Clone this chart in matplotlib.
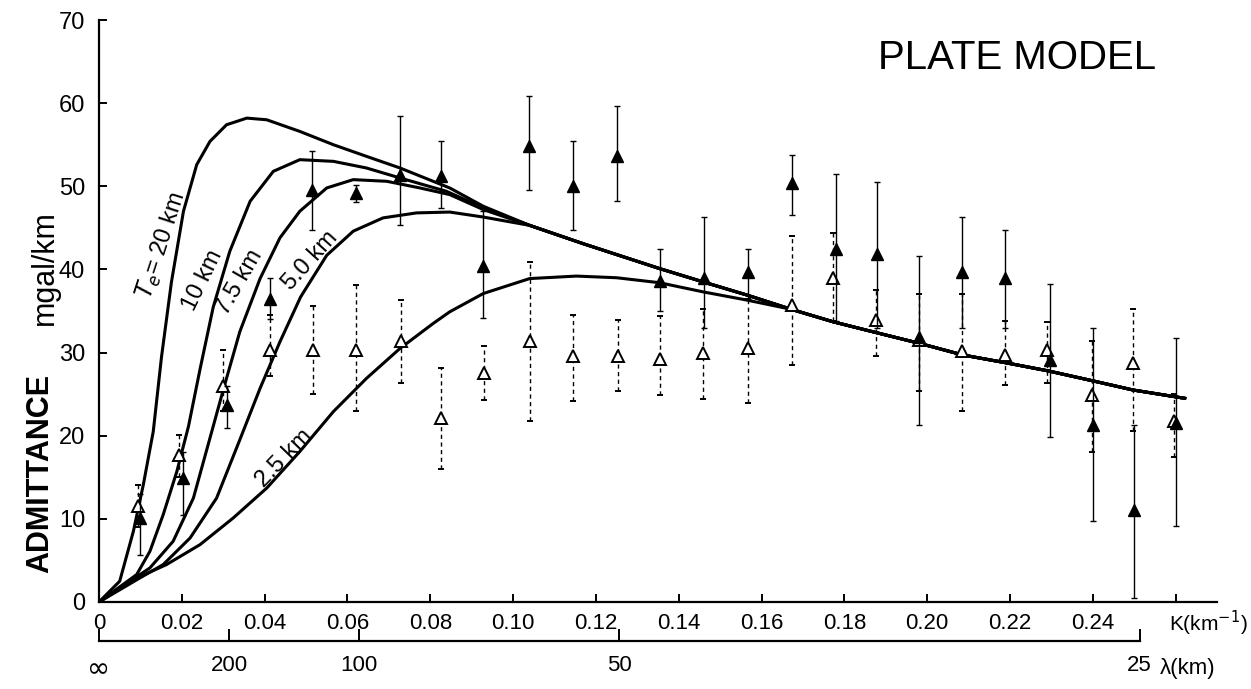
import numpy as np
import matplotlib
matplotlib.use("Agg")
import matplotlib.pyplot as plt

plt.rcParams['font.family'] = ['Liberation Sans', 'DejaVu Sans']
plt.rcParams['mathtext.fontset'] = 'dejavusans'

# model curves, k in km^-1, admittance in mgal/km
te20_k = [0, 0.005, 0.0083, 0.0107, 0.0131, 0.0151, 0.0175, 0.0204, 0.0236, 0.0268,
          0.0308, 0.0357, 0.0405, 0.0485, 0.0566, 0.0646, 0.0727, 0.0847, 0.0928]
te20_y = [0, 2.5, 8.5, 14.1, 20.5, 29.5, 38.5, 47.0, 52.6, 55.4,
          57.4, 58.2, 58.0, 56.6, 55.0, 53.6, 52.2, 49.8, 47.6]
te10_k = [0, 0.0091, 0.0123, 0.0155, 0.0188, 0.0216, 0.0244, 0.0276, 0.0316, 0.0365,
          0.0421, 0.0485, 0.0566, 0.0646, 0.0727, 0.0839, 0.0928]
te10_y = [0, 3.3, 6.1, 10.5, 15.7, 21.1, 28.0, 35.5, 42.2, 48.2,
          51.8, 53.2, 53.0, 52.2, 51.0, 49.4, 47.4]
te75_k = [0, 0.0123, 0.0179, 0.0228, 0.0264, 0.030, 0.034, 0.0389, 0.0437, 0.0485,
          0.055, 0.0614, 0.0695, 0.0775, 0.0847, 0.0928]
te75_y = [0, 4.1, 7.3, 12.5, 19.0, 25.5, 32.5, 38.9, 43.8, 47.0,
          49.8, 50.8, 50.6, 49.8, 49.0, 47.2]
te50_k = [0, 0.0099, 0.0155, 0.022, 0.0284, 0.034, 0.0389, 0.0437, 0.0487, 0.055,
          0.0614, 0.0686, 0.0767, 0.0847, 0.0928]
te50_y = [0, 2.9, 4.5, 7.7, 12.5, 19.5, 25.7, 31.3, 36.7, 41.7,
          44.6, 46.2, 46.8, 46.9, 46.3]
te25_k = [0, 0.0083, 0.0163, 0.0244, 0.0324, 0.0405, 0.0485, 0.0566, 0.0646, 0.0727,
          0.0807, 0.0847, 0.0928, 0.104, 0.1153, 0.125, 0.1354, 0.1459, 0.1566]
te25_y = [0, 2.7, 4.5, 6.9, 10.1, 13.7, 18.1, 22.9, 26.9, 30.5,
          33.5, 34.9, 37.1, 38.9, 39.2, 39.0, 38.4, 37.3, 36.3]
# common short-wavelength branch shared by all curves
tail_k = [0.104, 0.1169, 0.1354, 0.1459, 0.1566, 0.1672, 0.1773, 0.1877, 0.1982,
          0.2087, 0.2187, 0.2292, 0.240, 0.2497, 0.2622]
tail_y = [45.3, 43.1, 40.1, 38.5, 36.9, 35.2, 33.7, 32.4, 31.1,
          29.7, 28.8, 27.8, 26.6, 25.5, 24.5]

# observed admittance, solid triangles
filled_k = [0.0099, 0.0203, 0.031, 0.0413, 0.0514, 0.062, 0.0727, 0.0826, 0.0928, 0.1039,
            0.1144, 0.125, 0.1354, 0.146, 0.1567, 0.1673, 0.178, 0.188, 0.198, 0.2084,
            0.2187, 0.2296, 0.240, 0.250, 0.260]
filled_y = [10.1, 14.9, 23.7, 36.5, 49.5, 49.2, 51.3, 51.2, 40.4, 54.8,
            50.0, 53.7, 38.6, 39.0, 39.7, 50.4, 42.5, 41.8, 31.9, 39.7,
            39.0, 29.1, 21.3, 11.1, 21.5]
filled_lo = [5.6, 10.5, 20.9, 34.0, 44.8, 48.1, 45.3, 47.4, 34.1, 49.6,
             44.7, 48.2, 35.0, 32.9, 36.5, 46.5, 33.8, 33.0, 21.3, 33.0,
             33.0, 19.8, 9.7, 0.5, 9.1]
filled_hi = [13.0, 18.0, 26.0, 39.0, 54.2, 50.1, 58.5, 55.4, 47.0, 60.8,
             55.4, 59.7, 42.5, 46.3, 42.5, 53.8, 51.5, 50.5, 41.6, 46.3,
             44.8, 38.3, 32.9, 21.3, 31.7]

# observed admittance, open triangles
open_k = [0.0094, 0.0193, 0.030, 0.0413, 0.0516, 0.062, 0.073, 0.0826, 0.093, 0.1042,
          0.1144, 0.1253, 0.1354, 0.1458, 0.1567, 0.1673, 0.1772, 0.1876, 0.198, 0.2084,
          0.2187, 0.2289, 0.2397, 0.2498, 0.2597]
open_y = [11.5, 17.7, 26.0, 30.3, 30.3, 30.3, 31.4, 22.1, 27.5, 31.4,
          29.6, 29.6, 29.2, 29.9, 30.5, 35.7, 39.0, 33.9, 31.5, 30.2,
          29.7, 30.3, 24.9, 28.7, 21.8]
open_lo = [9.0, 15.0, 23.0, 27.2, 25.0, 23.0, 26.4, 16.0, 24.3, 21.8,
           24.2, 25.4, 24.9, 24.4, 23.9, 28.5, 33.8, 29.6, 25.4, 23.0,
           26.1, 26.3, 18.1, 20.6, 17.5]
open_hi = [14.1, 20.1, 30.3, 34.5, 35.6, 38.1, 36.3, 28.1, 30.8, 40.9,
           34.5, 33.9, 34.4, 35.3, 36.5, 44.0, 44.4, 37.5, 37.1, 37.1,
           33.8, 33.7, 31.4, 35.3, 25.0]

k_ticks = [0, 0.02, 0.04, 0.06, 0.08, 0.10, 0.12, 0.14, 0.16, 0.18, 0.20, 0.22, 0.24, 0.26]
k_labels = ['0', '0.02', '0.04', '0.06', '0.08', '0.10', '0.12', '0.14', '0.16',
            '0.18', '0.20', '0.22', '0.24', '']
lam_ticks = [np.inf, 200, 100, 50, 25]
lam_labels = ['∞', '200', '100', '50', '25']

curve_labels = [r'$T_e$= 20 km', '10 km', '7.5 km', '5.0 km', '2.5 km']
label_pos = [(0.0152, 42.9, 72), (0.0251, 38.7, 64), (0.034, 38.5, 60),
             (0.051, 41.0, 48), (0.0447, 17.3, 46)]

fig = plt.figure(figsize=(12.51, 6.89), dpi=100)
ax = fig.add_axes([99 / 1251, 1 - 602 / 689, 1118 / 1251, 582 / 689])

for ck, cy in [(te20_k, te20_y), (te10_k, te10_y), (te75_k, te75_y), (te50_k, te50_y)]:
    ax.plot(list(ck) + tail_k, list(cy) + tail_y, color='black', lw=2.2,
            solid_joinstyle='round', zorder=2)
ax.plot(te25_k + tail_k[5:], te25_y + tail_y[5:], color='black', lw=2.2,
        solid_joinstyle='round', zorder=2)

oy = np.array(open_y)
eb = ax.errorbar(open_k, open_y, yerr=[oy - np.array(open_lo), np.array(open_hi) - oy],
                 fmt='^', ms=9, mfc='white', mec='black', mew=1.4, ecolor='black',
                 elinewidth=1.0, capsize=2.5, capthick=1.0, zorder=3)
eb[2][0].set_linestyle((0, (3, 2.5)))

fy = np.array(filled_y)
ax.errorbar(filled_k, filled_y, yerr=[fy - np.array(filled_lo), np.array(filled_hi) - fy],
            fmt='^', ms=9, mfc='black', mec='black', ecolor='black',
            elinewidth=1.0, capsize=2.5, capthick=1.0, zorder=4)

for txt, (x, y, rot) in zip(curve_labels, label_pos):
    ax.text(x, y, txt, rotation=rot, ha='center', va='center', fontsize=17,
            rotation_mode='anchor')

ax.set_xlim(0, 0.27)
ax.set_ylim(0, 70)
ax.set_xticks(k_ticks)
ax.set_xticklabels(k_labels)
ax.set_yticks(range(0, 71, 10))
for s in ['top', 'right']:
    ax.spines[s].set_visible(False)
for s in ['left', 'bottom']:
    ax.spines[s].set_linewidth(1.6)
ax.tick_params(direction='in', length=6, width=1.4, labelsize=16, pad=8)
ax.tick_params(axis='y', labelsize=17, pad=10)

xt = ax.get_xaxis_transform()
ax.text(0.2585, -0.036, 'K(km$^{-1}$)', transform=xt, fontsize=15,
        ha='left', va='center')

sec = ax.secondary_xaxis(-0.067)
sec.set_xticks([0 if np.isinf(l) else 2 * np.pi / l for l in lam_ticks])
sec.set_xticklabels(lam_labels)
sec.spines['bottom'].set_bounds(0, 2 * np.pi / 25)
sec.spines['bottom'].set_linewidth(1.6)
sec.tick_params(direction='in', length=9, width=1.4, labelsize=16, pad=10)
inf_label = sec.get_xticklabels()[0]
inf_label.set_fontsize(20)
inf_label.set_family('DejaVu Sans')
ax.text(2 * np.pi / 25 + 0.0048, -0.114, 'λ(km)', transform=xt, fontsize=16,
        ha='left', va='center')

fig.text(40 / 1251, 1 - 473 / 689, 'ADMITTANCE', rotation=90, fontsize=22,
         fontweight='bold', ha='center', va='center')
fig.text(45 / 1251, 1 - 268 / 689, 'mgal/km', rotation=90, fontsize=22,
         ha='center', va='center')
fig.text(1017 / 1251, 1 - 58 / 689, 'PLATE MODEL', fontsize=29, ha='center',
         va='center')

fig.savefig('out.png', dpi=100)
